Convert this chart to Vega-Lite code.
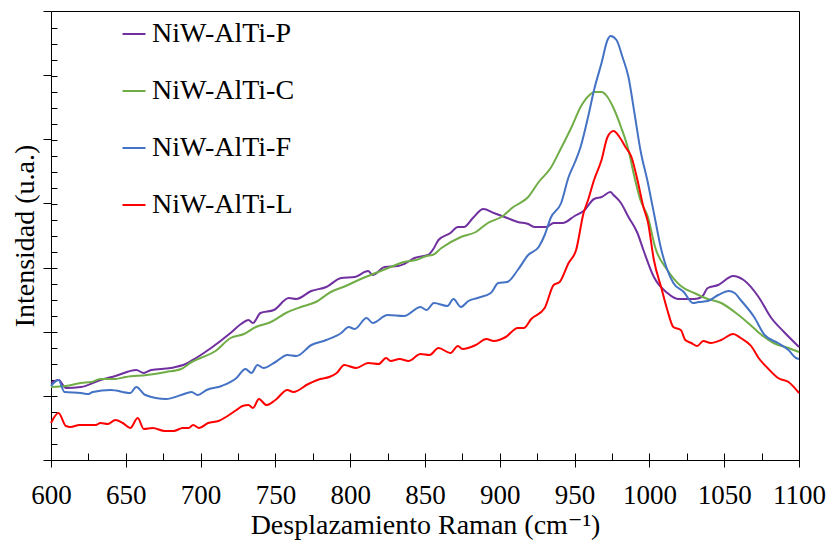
{
  "$schema": "https://vega.github.io/schema/vega-lite/v6.json",
  "autosize": {"type": "none"},
  "padding": {"left": 51, "top": 11, "right": 31, "bottom": 83},
  "width": 748,
  "height": 449,
  "background": "white",
  "config": {
    "view": {"stroke": "black", "strokeWidth": 1},
    "font": "Times New Roman, Liberation Serif, DejaVu Serif, serif",
    "axis": {"grid": false, "domain": false, "labelColor": "black", "titleColor": "black", "tickColor": "black", "labelFont": "Times New Roman, Liberation Serif, DejaVu Serif, serif", "titleFont": "Times New Roman, Liberation Serif, DejaVu Serif, serif", "titleFontWeight": "normal"},
    "legend": {"labelFont": "Times New Roman, Liberation Serif, DejaVu Serif, serif"}
  },
  "data": {"values": [
    {"s":"NiW-AlTi-P","x":600,"y":76},{"s":"NiW-AlTi-P","x":605,"y":79},{"s":"NiW-AlTi-P","x":610,"y":71},{"s":"NiW-AlTi-P","x":620,"y":72},{"s":"NiW-AlTi-P","x":633,"y":79},{"s":"NiW-AlTi-P","x":643,"y":83},{"s":"NiW-AlTi-P","x":657,"y":89},{"s":"NiW-AlTi-P","x":662,"y":86},{"s":"NiW-AlTi-P","x":667,"y":89},{"s":"NiW-AlTi-P","x":680,"y":91},{"s":"NiW-AlTi-P","x":690,"y":95},{"s":"NiW-AlTi-P","x":697,"y":101},{"s":"NiW-AlTi-P","x":707,"y":111},{"s":"NiW-AlTi-P","x":720,"y":126},{"s":"NiW-AlTi-P","x":727,"y":135},{"s":"NiW-AlTi-P","x":732,"y":139},{"s":"NiW-AlTi-P","x":735,"y":136},{"s":"NiW-AlTi-P","x":740,"y":146},{"s":"NiW-AlTi-P","x":749,"y":149},{"s":"NiW-AlTi-P","x":759,"y":161},{"s":"NiW-AlTi-P","x":764,"y":160},{"s":"NiW-AlTi-P","x":774,"y":168},{"s":"NiW-AlTi-P","x":784,"y":172},{"s":"NiW-AlTi-P","x":794,"y":181},{"s":"NiW-AlTi-P","x":803,"y":182},{"s":"NiW-AlTi-P","x":812,"y":188},{"s":"NiW-AlTi-P","x":815,"y":184},{"s":"NiW-AlTi-P","x":823,"y":192},{"s":"NiW-AlTi-P","x":832,"y":193},{"s":"NiW-AlTi-P","x":836,"y":195},{"s":"NiW-AlTi-P","x":843,"y":201},{"s":"NiW-AlTi-P","x":852,"y":204},{"s":"NiW-AlTi-P","x":856,"y":211},{"s":"NiW-AlTi-P","x":859,"y":219},{"s":"NiW-AlTi-P","x":867,"y":226},{"s":"NiW-AlTi-P","x":872,"y":232},{"s":"NiW-AlTi-P","x":876,"y":232},{"s":"NiW-AlTi-P","x":882,"y":241},{"s":"NiW-AlTi-P","x":889,"y":250},{"s":"NiW-AlTi-P","x":896,"y":246},{"s":"NiW-AlTi-P","x":905,"y":241},{"s":"NiW-AlTi-P","x":912,"y":237},{"s":"NiW-AlTi-P","x":919,"y":235},{"s":"NiW-AlTi-P","x":923,"y":232},{"s":"NiW-AlTi-P","x":931,"y":232},{"s":"NiW-AlTi-P","x":936,"y":236},{"s":"NiW-AlTi-P","x":942,"y":236},{"s":"NiW-AlTi-P","x":950,"y":243},{"s":"NiW-AlTi-P","x":956,"y":248},{"s":"NiW-AlTi-P","x":963,"y":260},{"s":"NiW-AlTi-P","x":968,"y":262},{"s":"NiW-AlTi-P","x":974,"y":267},{"s":"NiW-AlTi-P","x":976,"y":264},{"s":"NiW-AlTi-P","x":981,"y":256},{"s":"NiW-AlTi-P","x":986,"y":242},{"s":"NiW-AlTi-P","x":992,"y":226},{"s":"NiW-AlTi-P","x":996,"y":209},{"s":"NiW-AlTi-P","x":1003,"y":182},{"s":"NiW-AlTi-P","x":1012,"y":166},{"s":"NiW-AlTi-P","x":1019,"y":160},{"s":"NiW-AlTi-P","x":1030,"y":160},{"s":"NiW-AlTi-P","x":1035,"y":162},{"s":"NiW-AlTi-P","x":1039,"y":171},{"s":"NiW-AlTi-P","x":1046,"y":174},{"s":"NiW-AlTi-P","x":1056,"y":183},{"s":"NiW-AlTi-P","x":1063,"y":179},{"s":"NiW-AlTi-P","x":1073,"y":162},{"s":"NiW-AlTi-P","x":1081,"y":142},{"s":"NiW-AlTi-P","x":1090,"y":127},{"s":"NiW-AlTi-P","x":1100,"y":112},

    {"s":"NiW-AlTi-C","x":600,"y":72},{"s":"NiW-AlTi-C","x":610,"y":73},{"s":"NiW-AlTi-C","x":620,"y":76},{"s":"NiW-AlTi-C","x":627,"y":77},{"s":"NiW-AlTi-C","x":633,"y":80},{"s":"NiW-AlTi-C","x":643,"y":80},{"s":"NiW-AlTi-C","x":650,"y":82},{"s":"NiW-AlTi-C","x":664,"y":84},{"s":"NiW-AlTi-C","x":677,"y":87},{"s":"NiW-AlTi-C","x":687,"y":90},{"s":"NiW-AlTi-C","x":694,"y":97},{"s":"NiW-AlTi-C","x":700,"y":101},{"s":"NiW-AlTi-C","x":710,"y":108},{"s":"NiW-AlTi-C","x":720,"y":121},{"s":"NiW-AlTi-C","x":729,"y":125},{"s":"NiW-AlTi-C","x":737,"y":132},{"s":"NiW-AlTi-C","x":747,"y":137},{"s":"NiW-AlTi-C","x":757,"y":146},{"s":"NiW-AlTi-C","x":767,"y":152},{"s":"NiW-AlTi-C","x":777,"y":157},{"s":"NiW-AlTi-C","x":787,"y":167},{"s":"NiW-AlTi-C","x":797,"y":173},{"s":"NiW-AlTi-C","x":807,"y":180},{"s":"NiW-AlTi-C","x":817,"y":186},{"s":"NiW-AlTi-C","x":827,"y":192},{"s":"NiW-AlTi-C","x":836,"y":197},{"s":"NiW-AlTi-C","x":844,"y":199},{"s":"NiW-AlTi-C","x":851,"y":203},{"s":"NiW-AlTi-C","x":855,"y":204},{"s":"NiW-AlTi-C","x":861,"y":211},{"s":"NiW-AlTi-C","x":874,"y":222},{"s":"NiW-AlTi-C","x":884,"y":227},{"s":"NiW-AlTi-C","x":892,"y":236},{"s":"NiW-AlTi-C","x":901,"y":242},{"s":"NiW-AlTi-C","x":909,"y":252},{"s":"NiW-AlTi-C","x":919,"y":262},{"s":"NiW-AlTi-C","x":926,"y":277},{"s":"NiW-AlTi-C","x":934,"y":291},{"s":"NiW-AlTi-C","x":941,"y":311},{"s":"NiW-AlTi-C","x":948,"y":332},{"s":"NiW-AlTi-C","x":954,"y":352},{"s":"NiW-AlTi-C","x":960,"y":364},{"s":"NiW-AlTi-C","x":963,"y":367},{"s":"NiW-AlTi-C","x":968,"y":367},{"s":"NiW-AlTi-C","x":972,"y":362},{"s":"NiW-AlTi-C","x":976,"y":351},{"s":"NiW-AlTi-C","x":981,"y":332},{"s":"NiW-AlTi-C","x":986,"y":309},{"s":"NiW-AlTi-C","x":990,"y":282},{"s":"NiW-AlTi-C","x":994,"y":259},{"s":"NiW-AlTi-C","x":999,"y":242},{"s":"NiW-AlTi-C","x":1004,"y":211},{"s":"NiW-AlTi-C","x":1012,"y":189},{"s":"NiW-AlTi-C","x":1021,"y":173},{"s":"NiW-AlTi-C","x":1030,"y":166},{"s":"NiW-AlTi-C","x":1039,"y":160},{"s":"NiW-AlTi-C","x":1048,"y":156},{"s":"NiW-AlTi-C","x":1057,"y":147},{"s":"NiW-AlTi-C","x":1066,"y":136},{"s":"NiW-AlTi-C","x":1075,"y":124},{"s":"NiW-AlTi-C","x":1083,"y":116},{"s":"NiW-AlTi-C","x":1093,"y":111},{"s":"NiW-AlTi-C","x":1100,"y":107},

    {"s":"NiW-AlTi-F","x":600,"y":73},{"s":"NiW-AlTi-F","x":605,"y":79},{"s":"NiW-AlTi-F","x":609,"y":67},{"s":"NiW-AlTi-F","x":620,"y":66},{"s":"NiW-AlTi-F","x":625,"y":65},{"s":"NiW-AlTi-F","x":628,"y":67},{"s":"NiW-AlTi-F","x":640,"y":69},{"s":"NiW-AlTi-F","x":653,"y":66},{"s":"NiW-AlTi-F","x":657,"y":72},{"s":"NiW-AlTi-F","x":663,"y":64},{"s":"NiW-AlTi-F","x":677,"y":60},{"s":"NiW-AlTi-F","x":687,"y":64},{"s":"NiW-AlTi-F","x":694,"y":67},{"s":"NiW-AlTi-F","x":698,"y":64},{"s":"NiW-AlTi-F","x":704,"y":69},{"s":"NiW-AlTi-F","x":714,"y":73},{"s":"NiW-AlTi-F","x":724,"y":81},{"s":"NiW-AlTi-F","x":730,"y":90},{"s":"NiW-AlTi-F","x":734,"y":86},{"s":"NiW-AlTi-F","x":738,"y":94},{"s":"NiW-AlTi-F","x":742,"y":91},{"s":"NiW-AlTi-F","x":750,"y":97},{"s":"NiW-AlTi-F","x":758,"y":104},{"s":"NiW-AlTi-F","x":764,"y":103},{"s":"NiW-AlTi-F","x":774,"y":114},{"s":"NiW-AlTi-F","x":784,"y":119},{"s":"NiW-AlTi-F","x":794,"y":126},{"s":"NiW-AlTi-F","x":799,"y":132},{"s":"NiW-AlTi-F","x":803,"y":130},{"s":"NiW-AlTi-F","x":811,"y":141},{"s":"NiW-AlTi-F","x":815,"y":136},{"s":"NiW-AlTi-F","x":825,"y":144},{"s":"NiW-AlTi-F","x":836,"y":143},{"s":"NiW-AlTi-F","x":847,"y":152},{"s":"NiW-AlTi-F","x":851,"y":149},{"s":"NiW-AlTi-F","x":856,"y":156},{"s":"NiW-AlTi-F","x":865,"y":153},{"s":"NiW-AlTi-F","x":869,"y":160},{"s":"NiW-AlTi-F","x":874,"y":152},{"s":"NiW-AlTi-F","x":879,"y":158},{"s":"NiW-AlTi-F","x":885,"y":161},{"s":"NiW-AlTi-F","x":894,"y":166},{"s":"NiW-AlTi-F","x":899,"y":176},{"s":"NiW-AlTi-F","x":905,"y":177},{"s":"NiW-AlTi-F","x":912,"y":189},{"s":"NiW-AlTi-F","x":919,"y":204},{"s":"NiW-AlTi-F","x":926,"y":212},{"s":"NiW-AlTi-F","x":930,"y":224},{"s":"NiW-AlTi-F","x":934,"y":241},{"s":"NiW-AlTi-F","x":941,"y":256},{"s":"NiW-AlTi-F","x":946,"y":282},{"s":"NiW-AlTi-F","x":950,"y":296},{"s":"NiW-AlTi-F","x":954,"y":312},{"s":"NiW-AlTi-F","x":959,"y":342},{"s":"NiW-AlTi-F","x":963,"y":369},{"s":"NiW-AlTi-F","x":968,"y":396},{"s":"NiW-AlTi-F","x":972,"y":419},{"s":"NiW-AlTi-F","x":974,"y":423},{"s":"NiW-AlTi-F","x":978,"y":419},{"s":"NiW-AlTi-F","x":982,"y":402},{"s":"NiW-AlTi-F","x":986,"y":382},{"s":"NiW-AlTi-F","x":990,"y":346},{"s":"NiW-AlTi-F","x":994,"y":309},{"s":"NiW-AlTi-F","x":999,"y":276},{"s":"NiW-AlTi-F","x":1003,"y":246},{"s":"NiW-AlTi-F","x":1008,"y":209},{"s":"NiW-AlTi-F","x":1012,"y":189},{"s":"NiW-AlTi-F","x":1016,"y":176},{"s":"NiW-AlTi-F","x":1023,"y":167},{"s":"NiW-AlTi-F","x":1029,"y":156},{"s":"NiW-AlTi-F","x":1033,"y":157},{"s":"NiW-AlTi-F","x":1039,"y":158},{"s":"NiW-AlTi-F","x":1046,"y":164},{"s":"NiW-AlTi-F","x":1053,"y":168},{"s":"NiW-AlTi-F","x":1057,"y":166},{"s":"NiW-AlTi-F","x":1061,"y":159},{"s":"NiW-AlTi-F","x":1070,"y":142},{"s":"NiW-AlTi-F","x":1077,"y":124},{"s":"NiW-AlTi-F","x":1086,"y":116},{"s":"NiW-AlTi-F","x":1093,"y":109},{"s":"NiW-AlTi-F","x":1098,"y":101},{"s":"NiW-AlTi-F","x":1100,"y":100},

    {"s":"NiW-AlTi-L","x":600,"y":36},{"s":"NiW-AlTi-L","x":605,"y":46},{"s":"NiW-AlTi-L","x":610,"y":33},{"s":"NiW-AlTi-L","x":613,"y":32},{"s":"NiW-AlTi-L","x":619,"y":34},{"s":"NiW-AlTi-L","x":630,"y":34},{"s":"NiW-AlTi-L","x":633,"y":36},{"s":"NiW-AlTi-L","x":638,"y":35},{"s":"NiW-AlTi-L","x":643,"y":39},{"s":"NiW-AlTi-L","x":648,"y":36},{"s":"NiW-AlTi-L","x":653,"y":31},{"s":"NiW-AlTi-L","x":658,"y":41},{"s":"NiW-AlTi-L","x":662,"y":30},{"s":"NiW-AlTi-L","x":668,"y":31},{"s":"NiW-AlTi-L","x":676,"y":28},{"s":"NiW-AlTi-L","x":682,"y":28},{"s":"NiW-AlTi-L","x":688,"y":31},{"s":"NiW-AlTi-L","x":692,"y":31},{"s":"NiW-AlTi-L","x":695,"y":34},{"s":"NiW-AlTi-L","x":699,"y":31},{"s":"NiW-AlTi-L","x":705,"y":36},{"s":"NiW-AlTi-L","x":712,"y":38},{"s":"NiW-AlTi-L","x":718,"y":43},{"s":"NiW-AlTi-L","x":724,"y":49},{"s":"NiW-AlTi-L","x":728,"y":53},{"s":"NiW-AlTi-L","x":732,"y":54},{"s":"NiW-AlTi-L","x":735,"y":51},{"s":"NiW-AlTi-L","x":739,"y":60},{"s":"NiW-AlTi-L","x":744,"y":54},{"s":"NiW-AlTi-L","x":750,"y":59},{"s":"NiW-AlTi-L","x":758,"y":69},{"s":"NiW-AlTi-L","x":762,"y":67},{"s":"NiW-AlTi-L","x":772,"y":75},{"s":"NiW-AlTi-L","x":780,"y":80},{"s":"NiW-AlTi-L","x":786,"y":82},{"s":"NiW-AlTi-L","x":791,"y":86},{"s":"NiW-AlTi-L","x":796,"y":94},{"s":"NiW-AlTi-L","x":804,"y":91},{"s":"NiW-AlTi-L","x":812,"y":96},{"s":"NiW-AlTi-L","x":819,"y":95},{"s":"NiW-AlTi-L","x":824,"y":101},{"s":"NiW-AlTi-L","x":827,"y":98},{"s":"NiW-AlTi-L","x":833,"y":100},{"s":"NiW-AlTi-L","x":839,"y":98},{"s":"NiW-AlTi-L","x":847,"y":105},{"s":"NiW-AlTi-L","x":853,"y":104},{"s":"NiW-AlTi-L","x":859,"y":111},{"s":"NiW-AlTi-L","x":867,"y":106},{"s":"NiW-AlTi-L","x":872,"y":113},{"s":"NiW-AlTi-L","x":875,"y":110},{"s":"NiW-AlTi-L","x":884,"y":114},{"s":"NiW-AlTi-L","x":891,"y":120},{"s":"NiW-AlTi-L","x":896,"y":118},{"s":"NiW-AlTi-L","x":904,"y":122},{"s":"NiW-AlTi-L","x":912,"y":131},{"s":"NiW-AlTi-L","x":916,"y":131},{"s":"NiW-AlTi-L","x":921,"y":140},{"s":"NiW-AlTi-L","x":930,"y":151},{"s":"NiW-AlTi-L","x":936,"y":174},{"s":"NiW-AlTi-L","x":940,"y":177},{"s":"NiW-AlTi-L","x":946,"y":196},{"s":"NiW-AlTi-L","x":951,"y":209},{"s":"NiW-AlTi-L","x":956,"y":246},{"s":"NiW-AlTi-L","x":959,"y":259},{"s":"NiW-AlTi-L","x":963,"y":279},{"s":"NiW-AlTi-L","x":968,"y":299},{"s":"NiW-AlTi-L","x":972,"y":322},{"s":"NiW-AlTi-L","x":976,"y":328},{"s":"NiW-AlTi-L","x":980,"y":322},{"s":"NiW-AlTi-L","x":984,"y":312},{"s":"NiW-AlTi-L","x":988,"y":302},{"s":"NiW-AlTi-L","x":992,"y":279},{"s":"NiW-AlTi-L","x":996,"y":252},{"s":"NiW-AlTi-L","x":999,"y":237},{"s":"NiW-AlTi-L","x":1003,"y":199},{"s":"NiW-AlTi-L","x":1008,"y":171},{"s":"NiW-AlTi-L","x":1012,"y":149},{"s":"NiW-AlTi-L","x":1016,"y":132},{"s":"NiW-AlTi-L","x":1021,"y":129},{"s":"NiW-AlTi-L","x":1024,"y":119},{"s":"NiW-AlTi-L","x":1028,"y":116},{"s":"NiW-AlTi-L","x":1032,"y":113},{"s":"NiW-AlTi-L","x":1036,"y":118},{"s":"NiW-AlTi-L","x":1041,"y":116},{"s":"NiW-AlTi-L","x":1048,"y":119},{"s":"NiW-AlTi-L","x":1056,"y":125},{"s":"NiW-AlTi-L","x":1061,"y":121},{"s":"NiW-AlTi-L","x":1068,"y":113},{"s":"NiW-AlTi-L","x":1073,"y":101},{"s":"NiW-AlTi-L","x":1079,"y":91},{"s":"NiW-AlTi-L","x":1086,"y":81},{"s":"NiW-AlTi-L","x":1093,"y":77},{"s":"NiW-AlTi-L","x":1100,"y":66}
  ]},
  "resolve": {"axis": {"x": "independent", "y": "independent"}},
  "layer": [
    {
      "mark": {"type": "line", "strokeWidth": 2, "interpolate": "monotone"},
      "encoding": {
        "x": {"field": "x", "type": "quantitative", "scale": {"domain": [600, 1100], "nice": false, "zero": false},
          "axis": {"orient": "bottom", "values": [600,650,700,750,800,850,900,950,1000,1050,1100], "format": "d", "tickSize": 7, "labelPadding": 15, "labelFontSize": 27, "title": "Desplazamiento Raman (cm⁻¹)", "titleFontSize": 28, "titlePadding": 3, "labelFlush": false, "labelOverlap": false}},
        "y": {"field": "y", "type": "quantitative", "scale": {"domain": [-1, 448], "nice": false, "zero": false},
          "axis": {"orient": "left", "values": [-1, 63.1, 127.3, 191.4, 255.6, 319.7, 383.9, 448], "labels": false, "tickSize": 8, "title": "Intensidad (u.a.)", "titleFontSize": 28, "titlePadding": 3}},
        "color": {"field": "s", "type": "nominal", "sort": ["NiW-AlTi-P", "NiW-AlTi-C", "NiW-AlTi-F", "NiW-AlTi-L"],
          "scale": {"domain": ["NiW-AlTi-P", "NiW-AlTi-C", "NiW-AlTi-F", "NiW-AlTi-L"], "range": ["#7030A0", "#70AD47", "#4472C4", "#FF0000"]},
          "legend": {"orient": "none", "legendX": 69, "legendY": 9, "title": null, "symbolType": "stroke", "symbolSize": 529, "symbolStrokeWidth": 2, "labelFontSize": 28, "labelFont": "Times New Roman, Liberation Serif, DejaVu Serif, serif", "labelColor": "black", "labelOffset": 4, "rowPadding": 29, "padding": 0, "labelLimit": 400}}
      }
    },
    {
      "mark": {"type": "line", "opacity": 0},
      "encoding": {
        "x": {"field": "x", "type": "quantitative",
          "axis": {"orient": "bottom", "values": [600,625,650,675,700,725,750,775,800,825,850,875,900,925,950,975,1000,1025,1050,1075,1100], "labels": false, "tickSize": -7, "title": null}},
        "y": {"field": "y", "type": "quantitative",
          "axis": {"orient": "left", "values": [-1,15,31,47,63,79,95,111,127,143,159,175,191,207,223,239,255,271,287,303,319,335,351,367,383,399,415,431,448], "labels": false, "tickSize": -6, "title": null}},
        "detail": {"field": "s"}
      }
    }
  ]
}
